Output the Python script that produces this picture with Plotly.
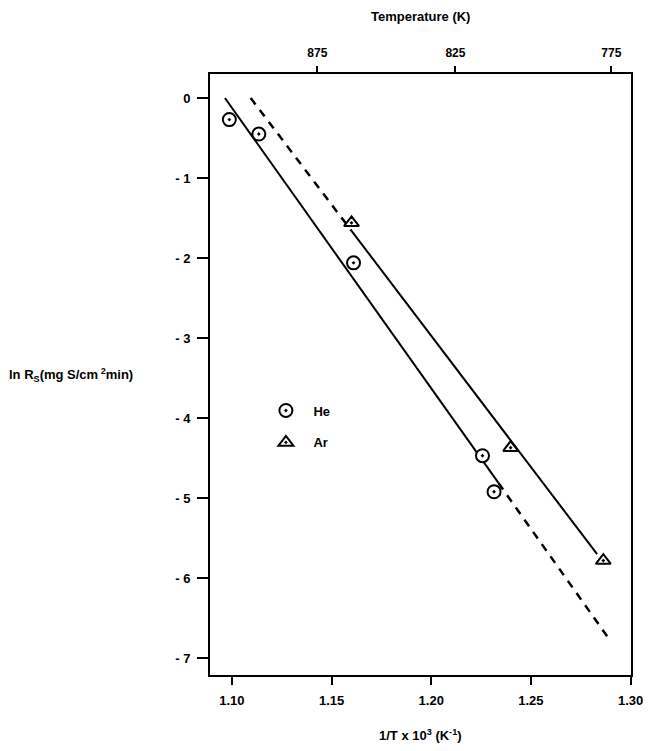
import plotly.graph_objects as go

# ---- data ----
he_x = [1.0987, 1.1135, 1.161, 1.2257, 1.2315]
he_y = [-0.27, -0.45, -2.06, -4.47, -4.92]
ar_x = [1.160, 1.2398, 1.2863]
ar_y = [-1.56, -4.37, -5.78]

# fitted lines (solid part / dashed part)
he_fit_x = [1.0965, 1.2337, 1.2886]
he_fit_y = [0.0, -4.81, -6.74]
ar_fit_x = [1.1094, 1.160, 1.2832]
ar_fit_y = [0.0, -1.66, -5.70]

x_ticks = [1.10, 1.15, 1.20, 1.25, 1.30]
x_ticktext = ["1.10", "1.15", "1.20", "1.25", "1.30"]
y_ticks = [0, -1, -2, -3, -4, -5, -6, -7]
y_ticktext = ["0", "- 1", "- 2", "- 3", "- 4", "- 5", "- 6", "- 7"]
temp_ticks = [875, 825, 775]

FONT = "Liberation Sans"
fig = go.Figure()

# He line: solid then dashed
fig.add_trace(go.Scatter(x=he_fit_x[:2], y=he_fit_y[:2], mode="lines",
                         line=dict(color="black", width=2), showlegend=False))
fig.add_trace(go.Scatter(x=he_fit_x[1:], y=he_fit_y[1:], mode="lines",
                         line=dict(color="black", width=2.5, dash="8px,7px"), showlegend=False))
# Ar line: dashed then solid
fig.add_trace(go.Scatter(x=ar_fit_x[:2], y=ar_fit_y[:2], mode="lines",
                         line=dict(color="black", width=2.5, dash="8px,7px"), showlegend=False))
fig.add_trace(go.Scatter(x=ar_fit_x[1:], y=ar_fit_y[1:], mode="lines",
                         line=dict(color="black", width=2), showlegend=False))

fig.add_trace(go.Scatter(x=he_x, y=he_y, mode="markers", name="He",
                         legendgroup="he",
                         marker=dict(symbol="circle-dot", size=13, color="white",
                                     line=dict(color="black", width=2))))
fig.add_trace(go.Scatter(x=ar_x, y=ar_y, mode="markers", name="Ar",
                         legendgroup="ar",
                         marker=dict(symbol="triangle-up-dot", size=13, color="white",
                                     line=dict(color="black", width=2))))

# top axis (temperature) via a hidden helper trace on xaxis2
fig.add_trace(go.Scatter(x=[None], y=[None], xaxis="x2", showlegend=False))

xr = [1.089, 1.3002]
yr = [-7.21, 0.30]

fig.update_layout(
    width=655, height=751,
    margin=dict(l=210, r=19, t=74, b=76),
    paper_bgcolor="white", plot_bgcolor="white",
    font=dict(family=FONT, size=12, color="black", weight="bold"),
    xaxis=dict(range=xr, tickvals=x_ticks, ticktext=x_ticktext,
               ticks="outside", ticklen=8, tickwidth=2, tickcolor="black",
               showline=True, linewidth=2, linecolor="black", mirror=True,
               showgrid=False, zeroline=False,
               tickfont=dict(size=13, weight="bold"), ticklabelstandoff=4),
    xaxis2=dict(range=xr, overlaying="x", side="top",
                tickvals=[1000.0 / t for t in temp_ticks],
                ticktext=[str(t) for t in temp_ticks],
                ticks="outside", ticklen=7, tickwidth=2, tickcolor="black",
                showline=False, showgrid=False, zeroline=False,
                tickfont=dict(size=12, weight="bold"), ticklabelstandoff=4),
    yaxis=dict(range=yr, tickvals=y_ticks, ticktext=y_ticktext,
               ticks="outside", ticklen=11, tickwidth=2, tickcolor="black",
               showline=True, linewidth=2, linecolor="black", mirror=True,
               showgrid=False, zeroline=False,
               tickfont=dict(size=13, weight="bold"), ticklabelstandoff=4),
    legend=dict(x=0.115, y=0.465, xanchor="left", yanchor="top",
                bgcolor="rgba(0,0,0,0)", font=dict(size=13, weight="bold"),
                tracegroupgap=12, traceorder="grouped", itemwidth=45),
    annotations=[
        dict(text="Temperature (K)", xref="paper", yref="paper",
             x=0.5, y=1.095, xanchor="center", yanchor="middle",
             showarrow=False, font=dict(size=13, weight="bold")),
        dict(text="1/T x 10<sup>3</sup> (K<sup>-1</sup>)", xref="paper", yref="paper",
             x=0.5, y=-0.10, xanchor="center", yanchor="middle",
             showarrow=False, font=dict(size=13, weight="bold")),
        dict(text="ln R<sub>S</sub>(mg S/cm<sup> 2</sup>min)", xref="paper", yref="paper",
             x=-0.483, y=0.499, xanchor="left", yanchor="middle",
             showarrow=False, font=dict(size=13, weight="bold")),
    ],
)

fig.write_html("out.html")
